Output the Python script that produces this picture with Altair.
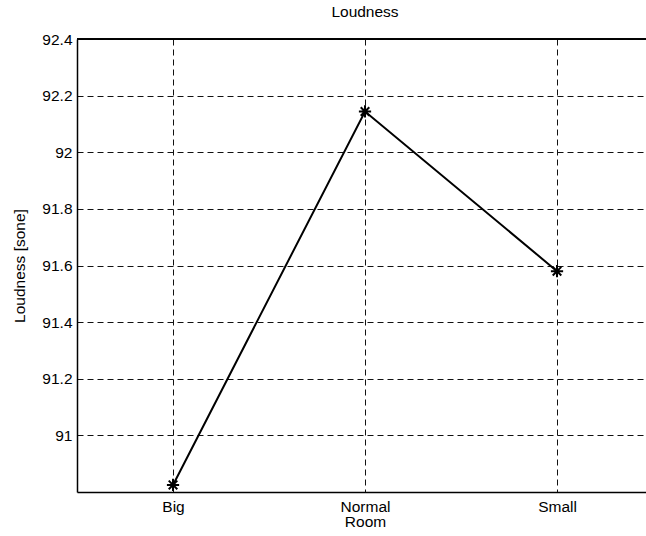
import altair as alt
import pandas as pd

# Loudness per room type
rooms = ["Big", "Normal", "Small"]
loudness = [90.825, 92.144, 91.58]
y_ticks = [91.0, 91.2, 91.4, 91.6, 91.8, 92.0, 92.2, 92.4]

df = pd.DataFrame({"Room": rooms, "Loudness": loudness})

W, H = 569, 453
FONT = "Liberation Sans"
FS = 15.5

x_enc = alt.X(
    "Room:N",
    sort=rooms,
    scale=alt.Scale(type="point", padding=0.4818, align=0.519),
    axis=alt.Axis(
        title="Room",
        titleX=288,
        titleFontWeight="normal",
        titleFontSize=FS,
        titlePadding=0,
        labelFontSize=FS,
        labelAngle=0,
        labelPadding=7,
        tickSize=0,
        domainColor="black",
        domainWidth=1.5,
        grid=True,
        gridDash=[6, 4],
        gridColor="#111111",
        gridWidth=1,
    ),
)

y_enc = alt.Y(
    "Loudness:Q",
    scale=alt.Scale(domain=[90.8, 92.4], nice=False, zero=False),
    axis=alt.Axis(
        title="Loudness [sone]",
        values=y_ticks,
        format="~g",
        titleFontWeight="normal",
        titleFontSize=FS,
        titlePadding=14,
        labelFontSize=FS,
        labelPadding=5,
        tickSize=0,
        domainColor="black",
        domainWidth=1.5,
        grid=True,
        gridDash=[6, 4],
        gridColor="#111111",
        gridWidth=1,
    ),
)

line = alt.Chart(df).mark_line(color="black", strokeWidth=2).encode(x=x_enc, y=y_enc)

asterisk = "M-1,0L1,0M0,-1L0,1M-0.7,-0.7L0.7,0.7M-0.7,0.7L0.7,-0.7"
points = alt.Chart(df).mark_point(
    shape=asterisk, size=150, stroke="black", strokeWidth=2, filled=False, opacity=1
).encode(x=alt.X("Room:N", sort=rooms), y="Loudness:Q")

top_border = alt.Chart(df).mark_rule(color="black", strokeWidth=1.5).encode(
    x=alt.value(0), x2=alt.value(W), y=alt.value(0)
)

chart = (
    alt.layer(line, points, top_border)
    .properties(
        width=W,
        height=H,
        autosize=alt.AutoSizeParams(type="none"),
        padding={"left": 77, "top": 39, "right": 0, "bottom": 44},
        title=alt.TitleParams(
            "Loudness", font=FONT, fontSize=FS, fontWeight="normal", dx=3.5, offset=12, anchor="middle"
        ),
        background="white",
    )
    .configure_view(stroke=None)
    .configure_axis(labelFont=FONT, titleFont=FONT, labelColor="black", titleColor="black")
)

chart.save("out.html", embed_options={"renderer": "svg", "actions": False})
